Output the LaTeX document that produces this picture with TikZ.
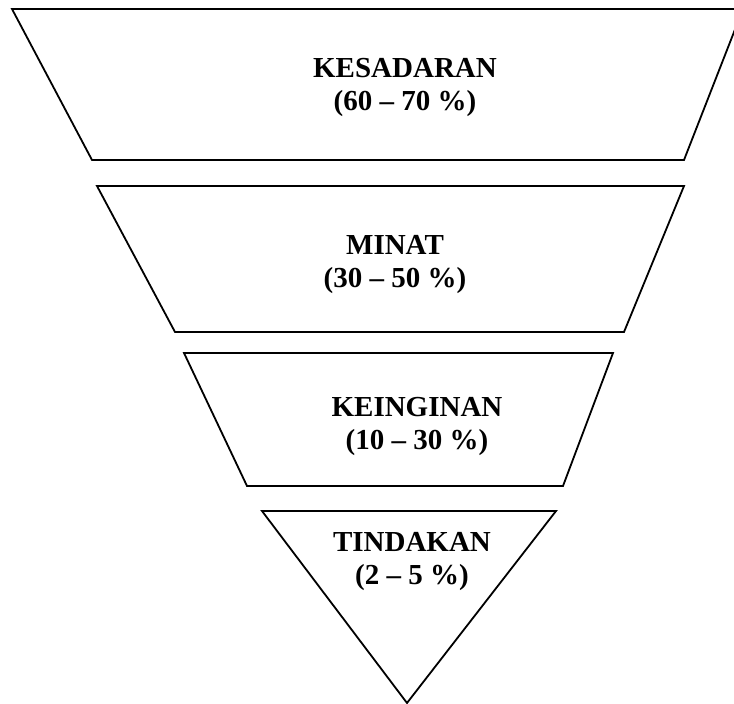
\documentclass[tikz,border=0pt]{standalone}
\usepackage{fontspec}
\setmainfont{Liberation Serif}
\usepackage{tikz}
\usetikzlibrary{positioning}
\tikzset{
  layer/.style={draw, line width=0.9pt, line join=miter, fill=white},
  tag/.style={font=\bfseries\fontsize{14.5}{16.3}\selectfont, align=center, inner sep=0pt, anchor=north}
}

\begin{document}
\begin{tikzpicture}[x=0.5pt, y=-0.5pt]
\useasboundingbox (0,0) rectangle (734,704);

% funnel layers, top to bottom
\draw[layer] (12,9) -- (743,9) -- (684,160) -- (92,160) -- cycle;
\draw[layer] (97,186) -- (684,186) -- (624,332) -- (175,332) -- cycle;
\draw[layer] (184,353) -- (613,353) -- (563,486) -- (247,486) -- cycle;
\draw[layer] (262,511) -- (556,511) -- (407,703) -- cycle;

\node (kesadaran) [tag] at (405,58)  {KESADARAN\\(60 -- 70 \%)};
\node (minat)     [tag] at (395,235) {MINAT\\(30 -- 50 \%)};
\node (keinginan) [tag] at (417,397) {KEINGINAN\\(10 -- 30 \%)};
\node (tindakan)  [tag] at (412,532) {TINDAKAN\\(2 -- 5 \%)};

\end{tikzpicture}
\end{document}
